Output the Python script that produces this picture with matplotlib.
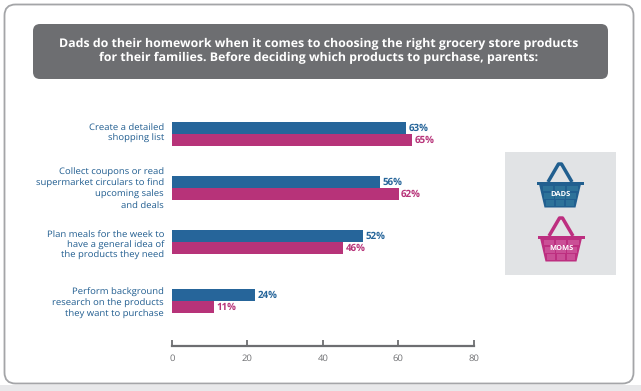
import matplotlib
matplotlib.use("Agg")
import matplotlib.pyplot as plt
from matplotlib.patches import FancyBboxPatch, Polygon, Rectangle

plt.rcParams["font.family"] = ["Open Sans", "DejaVu Sans"]
plt.rcParams["text.hinting"] = "none"

# Data
categories = [
    "Create a detailed\nshopping list",
    "Collect coupons or read\nsupermarket circulars to find\nupcoming sales\nand deals",
    "Plan meals for the week to\nhave a general idea of\nthe products they need",
    "Perform background\nresearch on the products\nthey want to purchase",
]
# printed labels
dads_pct = [63, 56, 52, 24]
moms_pct = [65, 62, 46, 11]
# bar lengths as drawn on the axis (the artwork is not quite to scale)
dads_len = [62.1, 55.2, 50.8, 22.1]
moms_len = [63.7, 60.1, 45.5, 11.2]
ticks = [0, 20, 40, 60, 80]
title = ("Dads do their homework when it comes to choosing the right grocery store products\n"
         "for their families. Before deciding which products to purchase, parents:")

BLUE = "#26659a"
PINK = "#b73379"
GREY = "#6d6e71"
W, H = 641, 391

fig = plt.figure(figsize=(W / 100, H / 100), dpi=100, facecolor="white")

# background layer in pixel coords
bg = fig.add_axes([0, 0, 1, 1])
bg.set_xlim(0, W)
bg.set_ylim(H, 0)
bg.axis("off")

# page edge below the frame
bg.add_patch(Rectangle((0, 385), W, 6, fc="#e8e8ea", ec="none"))
bg.add_patch(FancyBboxPatch((4.5, 4.5), 629, 379, boxstyle="round,pad=0,rounding_size=11",
                            fc="white", ec="#a4a5a8", lw=1.3))

# header
bg.add_patch(FancyBboxPatch((33, 24), 575, 55, boxstyle="round,pad=0,rounding_size=7",
                            fc=GREY, ec="none"))
bg.text(319, 51, title, color="white", fontsize=8.95, fontweight="bold",
        ha="center", va="center", linespacing=1.15)

# legend panel
bg.add_patch(Rectangle((505, 152), 111, 123, fc="#e1e3e5", ec="none"))


def basket(cx, top, color, light, name):
    # handle
    bg.plot([cx - 12, cx - 1.5, cx + 1.5, cx + 12], [top + 19, top + 1, top + 1, top + 19],
            color=color, lw=2.5, solid_joinstyle="round", solid_capstyle="butt")
    # rim and body
    rim = top + 19
    bg.add_patch(Rectangle((cx - 23.5, rim), 47, 2.5, fc=color, ec="none"))
    bg.add_patch(Polygon([(cx - 21, rim + 2), (cx + 21, rim + 2), (cx + 15.5, rim + 25.5),
                          (cx - 15.5, rim + 25.5)], fc=color, ec="none"))
    # small panes in the basket
    for row, (y, h) in enumerate([(rim + 4, 5), (rim + 11, 5.5), (rim + 18, 5.5)]):
        inset = 17.5 - row * 1.6
        pane = (2 * inset - 3) / 3
        for col in range(3):
            bg.add_patch(Rectangle((cx - inset + col * (pane + 1.5), y), pane, h,
                                   fc=light, ec="none"))
    bg.text(cx, rim + 12.5, name, color="white", fontsize=5.4, fontweight="bold",
            ha="center", va="center")


basket(560, 163, "#215f8f", "#2d7299", "DADS")
basket(561, 217, "#bd2f80", "#ca4f96", "MOMS")

# chart
ax_left, ax_right, ax_top, ax_bottom = 172, 473.5, 110, 345.5
ax = fig.add_axes([ax_left / W, 1 - ax_bottom / H, (ax_right - ax_left) / W,
                   (ax_bottom - ax_top) / H])
ax.patch.set_alpha(0)
ax.set_xlim(0, 80)
ax.set_ylim(ax_bottom, ax_top)

row_y = [134, 188, 242, 301]
label_y = [133, 189, 245, 303.5]
bar_h = 12
for i, y in enumerate(row_y):
    ax.barh(y - bar_h / 2, dads_len[i], height=bar_h, color=BLUE)
    ax.barh(y + bar_h / 2, moms_len[i], height=bar_h, color=PINK)
    ax.annotate(f"{dads_pct[i]}%", (dads_len[i], y - bar_h / 2), xytext=(1.6, -0.5),
                textcoords="offset points", color=BLUE, fontsize=7.0, fontweight="bold",
                va="center")
    ax.annotate(f"{moms_pct[i]}%", (moms_len[i], y + bar_h / 2), xytext=(1.6, -0.5),
                textcoords="offset points", color=PINK, fontsize=7.0, fontweight="bold",
                va="center")
    bg.text(164, label_y[i], categories[i], color="#1f5c8f", fontsize=6.8,
            ha="right", va="center", linespacing=1.25)

for s in ["top", "left", "right"]:
    ax.spines[s].set_visible(False)
ax.spines["bottom"].set_color(GREY)
ax.spines["bottom"].set_linewidth(1.6)
ax.set_yticks([])
ax.set_xticks(ticks)
ax.tick_params(axis="x", direction="in", length=4.5, width=1.3, color=GREY,
               labelcolor=GREY, labelsize=6.8, pad=6)

fig.savefig("out.png", dpi=100)
